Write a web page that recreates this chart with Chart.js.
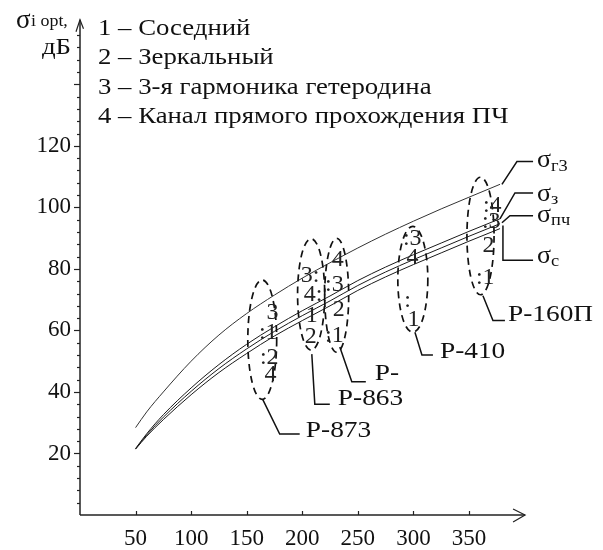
<!DOCTYPE html>
<html>
<head>
<meta charset="utf-8">
<script src="https://cdn.jsdelivr.net/npm/chart.js@4"></script>
<style>
html,body{margin:0;padding:0;background:#fff;}
#wrap{width:603px;height:550px;}
</style>
</head>
<body>
<div id="wrap"><canvas id="c" width="603" height="550"></canvas></div>
<script>
// ---- data ----
const xValues  = [50, 60, 75, 100, 125, 150, 175, 200, 225, 250, 275, 300, 325, 350, 378];
const sigmaG3  = [28.4, 33.5, 40.0, 50.0, 58.5, 65.5, 71.5, 77.0, 82.0, 86.8, 91.3, 95.5, 99.5, 103.3, 107.5];
const sigmaZ   = [21.6, 26.4, 32.6, 41.3, 48.9, 55.5, 61.2, 66.4, 71.2, 76.2, 80.6, 84.6, 88.4, 92.2, 96.3];
const sigmaPch = [21.5, 26.0, 31.8, 40.2, 47.6, 54.0, 59.7, 64.8, 69.6, 74.6, 79.0, 83.0, 86.8, 90.6, 94.7];
const sigmaS   = [21.4, 25.6, 31.0, 39.1, 46.3, 52.5, 58.2, 63.2, 68.0, 73.0, 77.4, 81.4, 85.2, 89.0, 93.1];

const xTickLabels = [50, 100, 150, 200, 250, 300, 350];
const yTickLabels = [20, 40, 60, 80, 100, 120];

const legendLines = ['1 – Соседний', '2 – Зеркальный', '3 – 3-я гармоника гетеродина', '4 – Канал прямого прохождения ПЧ'];

// radar groups (annotations, in data units)
const radarNames = ['Р-873', 'Р-863', 'Р-', 'Р-410', 'Р-160П'];
const groupCenterX = [164, 208, 231, 299.5, 360.4];
const groupCenterY = [57, 71.7, 71.4, 76.6, 90.7];
const groupHalfX = [13, 12.2, 10.8, 13.5, 12.2];
const groupHalfY = [19.4, 18.1, 18.5, 17.2, 19.1];
const groupNumbers = [
  [['3',173.3,65.8],[':1',172.4,59.1],[':2',173.3,51.0],['4',171.5,45.6]],
  [['3:',204.1,77.7],['4:',206.8,71.6],['1',208.6,64.8],['2',207.7,57.8]],
  [['4',231.9,83.1],[':3',231.9,74.8],['2',232.8,66.8],[':1',231.9,58.4]],
  [[':3',302,89.9],['4',299.3,83.8],[':',294.8,69.7],['1',300.2,63.6]],
  [[':4',374,100.5],[':3',373.1,95.3],['2',367.7,87.6],[':1',367.7,77.0]]
];
const groupLeaders = [
  [[164.4,37.6],[179.7,26.3],[197.7,26.3]],
  [[208.6,52.3],[211.3,36],[224.8,36]],
  [[233.8,54.6],[244.6,43.3],[257.2,43.3]],
  [[301.4,59.4],[307.7,52],[317.6,52]],
  [[362.6,71.3],[371.6,63.2],[382.4,63.2]]
];
const groupLabelPos = [[203.2,27.3],[232,37.9],[265.3,45.9],[323.9,53],[385.1,65.2]];

// curve labels
const curveSub = ['г3', 'з', 'пч', 'с'];
const curveLeaders = [
  [[379.7,107.5],[393.2,114.9],[407.7,114.9]],
  [[377.9,96.3],[391.4,104.7],[407.7,104.7]],
  [[379.7,95.0],[386.9,97.3],[407.7,97.3]],
  [[380.6,94.1],[380.6,82.8],[407.7,82.8]]
];
const curveLabelPos = [[411.3,114.6],[411.3,103.7],[411.3,96.9],[411.3,83.5]];

const FONT = "'Liberation Serif', 'DejaVu Serif', serif";
const INK = '#111';

function pts(ys){ return xValues.map((x,i)=>({x:x, y:ys[i]})); }
function ds(label, ys, color){
  return {label, data: pts(ys), showLine:true, borderColor:color, borderWidth:1,
          pointRadius:0, fill:false, cubicInterpolationMode:'monotone'};
}
function txt(ctx, t, x, y, size, align, sx){
  ctx.save();
  ctx.font = size + 'px ' + FONT;
  ctx.textAlign = align;
  ctx.translate(x, y); ctx.scale(sx, 1);
  ctx.fillText(t, 0, 0);
  const w = ctx.measureText(t).width * sx;
  ctx.restore();
  return w;
}

const overlay = {
  id:'overlay',
  afterDraw(chart){
    const ctx = chart.ctx, xs = chart.scales.x, ys = chart.scales.y;
    const X = v => xs.getPixelForValue(v), Y = v => ys.getPixelForValue(v);
    ctx.save();
    ctx.strokeStyle = '#222'; ctx.fillStyle = INK;
    // axes
    ctx.lineWidth = 1.5;
    const x0 = X(0), y0 = Y(0), yTop = Y(161), xEnd = X(400.5);
    ctx.beginPath(); ctx.moveTo(x0, y0); ctx.lineTo(x0, yTop); ctx.stroke();
    ctx.beginPath(); ctx.moveTo(x0, y0); ctx.lineTo(xEnd, y0); ctx.stroke();
    ctx.lineWidth = 1.2;
    ctx.beginPath(); ctx.moveTo(x0-4, yTop+12); ctx.lineTo(x0, yTop); ctx.lineTo(x0+3.5, yTop+9); ctx.stroke();
    ctx.beginPath(); ctx.moveTo(xEnd-12, y0-6); ctx.lineTo(xEnd, y0); ctx.lineTo(xEnd-12, y0+7); ctx.stroke();
    // y ticks
    for(let v=4; v<=156; v+=4){
      const major = v % 20 === 0;
      const py = Math.round(Y(v))+0.5;
      ctx.beginPath(); ctx.moveTo(x0 - (major?6:3), py); ctx.lineTo(x0, py); ctx.stroke();
    }
    // x ticks
    xTickLabels.forEach(v=>{
      const px = Math.round(X(v))+0.5;
      ctx.beginPath(); ctx.moveTo(px, y0); ctx.lineTo(px, y0-4); ctx.stroke();
    });
    // axis title
    ctx.textBaseline = 'alphabetic';
    txt(ctx, 'σ', 16, 28, 27, 'left', 1);
    txt(ctx, 'i opt,', 31, 26, 16, 'left', 1.12);
    txt(ctx, 'дБ', 71, 54, 24, 'right', 1.12);
    // legend
    ctx.textBaseline = 'middle';
    legendLines.forEach((t,i)=> txt(ctx, t, x0 + 18, 29 + i*29.2, 24, 'left', 1.115));
    // ellipses
    ctx.lineWidth = 1.7; ctx.strokeStyle = INK;
    ctx.setLineDash([7,5]);
    radarNames.forEach((n,i)=>{
      const cx = X(groupCenterX[i]), cy = Y(groupCenterY[i]);
      const rx = Math.abs(X(groupCenterX[i]+groupHalfX[i]) - cx);
      const ry = Math.abs(Y(groupCenterY[i]+groupHalfY[i]) - cy);
      ctx.beginPath(); ctx.ellipse(cx, cy, rx, ry, 0, 0, Math.PI*2); ctx.stroke();
    });
    ctx.setLineDash([]);
    // numbers
    ctx.fillStyle = '#222';
    ctx.font = '24px ' + FONT;
    const dw = ctx.measureText('0').width;
    groupNumbers.forEach(g=>g.forEach(([t,vx,vy])=>{
      const px = X(vx), py = Y(vy);
      if(t.length > 1 && t.startsWith(':')) txt(ctx, t, px+dw/2, py, 24, 'right', 1);
      else if(t.length > 1 && t.endsWith(':')) txt(ctx, t, px-dw/2, py, 24, 'left', 1);
      else txt(ctx, t, px, py, 24, 'center', 1);
    }));
    // leaders
    ctx.lineWidth = 1.5; ctx.strokeStyle = INK; ctx.fillStyle = INK;
    const poly = p => { ctx.beginPath(); p.forEach(([a,b],k)=> k? ctx.lineTo(X(a),Y(b)) : ctx.moveTo(X(a),Y(b))); ctx.stroke(); };
    groupLeaders.forEach(poly);
    curveLeaders.forEach(poly);
    radarNames.forEach((n,i)=> txt(ctx, n, X(groupLabelPos[i][0]), Y(groupLabelPos[i][1]), 24, 'left', 1.14));
    curveSub.forEach((s,i)=>{
      const px = X(curveLabelPos[i][0]), py = Y(curveLabelPos[i][1]);
      const w = txt(ctx, 'σ', px, py - 2, 26, 'left', 1);
      txt(ctx, s, px + w, py + 4, 16, 'left', 1.15);
    });
    ctx.restore();
  }
};

new Chart(document.getElementById('c'), {
  type:'scatter',
  data:{ datasets:[
    ds('σг3', sigmaG3, '#333'),
    ds('σз', sigmaZ, '#1a1a1a'),
    ds('σпч', sigmaPch, '#1a1a1a'),
    ds('σс', sigmaS, '#1a1a1a')
  ]},
  options:{
    responsive:false, animation:false, devicePixelRatio:1,
    layout:{ padding:{ left:0, top:17, right:78.5, bottom:0 } },
    plugins:{ legend:{display:false}, tooltip:{enabled:false} },
    scales:{
      x:{ type:'linear', min:0, max:400,
          afterFit: s => { s.height = 35; },
          grid:{ display:false, drawTicks:false }, border:{ display:false },
          ticks:{ stepSize:50, padding:10, autoSkip:false, maxRotation:0, color:INK,
                  font:{ family:FONT, size:23 },
                  callback: v => xTickLabels.includes(v) ? String(v) : '' } },
      y:{ type:'linear', min:0, max:160,
          afterFit: s => { s.width = 80; },
          grid:{ display:false, drawTicks:false }, border:{ display:false },
          ticks:{ stepSize:20, padding:9, autoSkip:false, color:INK,
                  font:{ family:FONT, size:23 },
                  callback: v => yTickLabels.includes(v) ? String(v) : '' } }
    }
  },
  plugins:[overlay]
});
</script>
</body>
</html>
